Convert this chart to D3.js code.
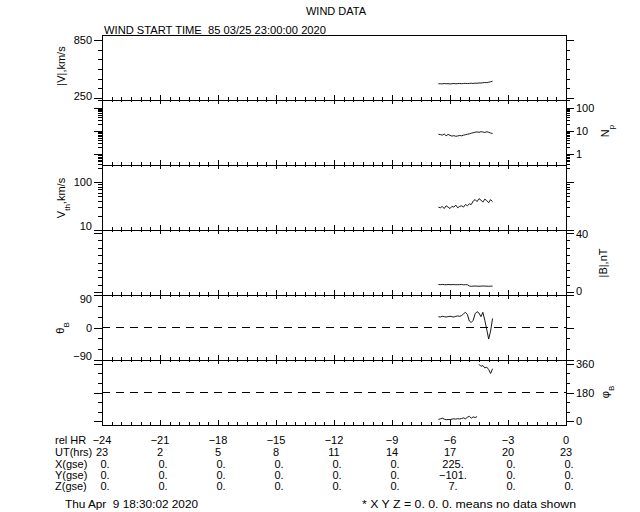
<!DOCTYPE html>
<html>
<head>
<meta charset="utf-8">
<script src="https://cdn.jsdelivr.net/npm/d3@7"></script>
<style>
  body { margin: 0; background: #fff; }
  svg text { font-family: "Liberation Sans", "DejaVu Sans", sans-serif; font-size: 11px; fill: #000; white-space: pre; }
  .axis path.domain { display: none; }
  .axis line { stroke: #000; shape-rendering: crispEdges; }
</style>
</head>
<body>
<script>
// hours relative to end time, one sample per 0.1 hr
const hours = [-6.6,-6.5,-6.4,-6.3,-6.2,-6.1,-6.0,-5.9,-5.8,-5.7,-5.6,-5.5,-5.4,-5.3,-5.2,-5.1,-5.0,-4.9,-4.8,-4.7,-4.6,-4.5,-4.4,-4.3,-4.2,-4.1,-4.0,-3.9,-3.8];
const speed = [397,398,396,400,397,399,395,398,400,397,399,401,398,400,402,399,401,403,400,404,402,406,405,408,410,409,413,418,424];
const density = [7.2,7.0,6.6,7.4,6.2,7.1,6.5,6.0,6.3,5.9,6.1,6.4,6.2,6.6,6.9,7.2,7.5,8.0,8.4,8.8,9.1,8.7,9.3,9.0,8.6,9.2,8.8,8.1,7.8];
const thermal = [30,29,31,28,32,30,28,31,30,33,29,31,32,30,34,32,35,34,40,43,39,45,42,38,44,41,37,43,39];
const bMag = [5.1,5.0,5.2,5.0,4.9,5.1,5.0,5.0,5.1,4.9,5.0,5.0,5.1,4.9,5.0,5.0,4.1,3.9,4.0,4.1,4.0,3.9,4.0,4.1,4.0,4.0,3.9,4.0,4.0];
const thetaB = [30,29,31,30,29,30,31,30,29,31,32,31,33,38,42,36,18,14,20,38,44,40,30,42,20,-5,-32,-10,25];
const phiB = [10,14,18,12,8,10,9,12,14,12,15,13,16,20,14,24,30,18,26,22,28,358,345,350,335,340,325,300,330];

// bottom table
const relHr = [-24,-21,-18,-15,-12,-9,-6,-3,0];
const utHrs = ["23","2","5","8","11","14","17","20","23"];
const xGse = ["0.","0.","0.","0.","0.","0.","225.","0.","0."];
const yGse = ["0.","0.","0.","0.","0.","0.","-101.","0.","0."];
const zGse = ["0.","0.","0.","0.","0.","0.","7.","0.","0."];

const W = 640, H = 512;
const left = 102, right = 566;
const panelH = 65;
const tops = [35, 100, 165, 230, 295, 360];

const svg = d3.select("body").append("svg")
    .attr("width", W)
    .attr("height", H);

svg.append("rect").attr("width", W).attr("height", H).attr("fill", "#fff");

const x = d3.scaleLinear().domain([-24, 0]).range([left, right]);

// y scales, one per panel
const yV   = d3.scaleLinear().domain([230, 900]).range([tops[0] + panelH, tops[0]]);
const yNp  = d3.scaleLog().domain([0.35, 210]).range([tops[1] + panelH, tops[1]]);
const yVth = d3.scaleLog().domain([10, 226]).range([tops[2] + panelH, tops[2]]);
const yB   = d3.scaleLinear().domain([-2, 42]).range([tops[3] + panelH, tops[3]]);
const yTh  = d3.scaleLinear().domain([-90, 90]).range([tops[4] + panelH, tops[4]]);
const yPh  = d3.scaleLinear().domain([-25, 385]).range([tops[5] + panelH, tops[5]]);

function logMinor(lo, hi) {
    const out = [];
    for (let e = -1; e <= 3; e++) {
        for (let m = 1; m <= 9; m++) {
            const v = m * Math.pow(10, e);
            if (v >= lo && v <= hi) out.push(v);
        }
    }
    return out;
}

const panels = [
    { y: yV,   ticks: d3.range(250, 851, 100), major: [250, 850], side: "left" },
    { y: yNp,  ticks: logMinor(0.35, 210),      major: [1, 10, 100], side: "right" },
    { y: yVth, ticks: logMinor(10, 226),        major: [10, 100], side: "left" },
    { y: yB,   ticks: d3.range(0, 41, 5),       major: [0, 40], side: "right" },
    { y: yTh,  ticks: d3.range(-90, 91, 30),    major: [-90, 0, 90], side: "left" },
    { y: yPh,  ticks: d3.range(0, 361, 60),     major: [0, 180, 360], side: "right" }
];

// frame
svg.append("rect")
    .attr("x", left).attr("y", tops[0])
    .attr("width", right - left).attr("height", panelH * 6)
    .attr("fill", "none").attr("stroke", "#000")
    .attr("shape-rendering", "crispEdges");

tops.slice(1).forEach(t => {
    svg.append("line")
        .attr("x1", left).attr("x2", right)
        .attr("y1", t).attr("y2", t)
        .attr("stroke", "#000").attr("shape-rendering", "crispEdges");
});

const xMinor = d3.range(-24, 0.01, 0.5);
const xMajor = d3.range(-24, 0.01, 3);

panels.forEach((p, i) => {
    const top = tops[i], bot = top + panelH;

    // x ticks pointing into the panel
    if (i > 0) {
        svg.append("g").attr("class", "axis").attr("transform", `translate(0,${top})`)
            .call(d3.axisBottom(x).tickValues(xMinor).tickSize(2).tickFormat(""));
        svg.append("g").attr("class", "axis").attr("transform", `translate(0,${top})`)
            .call(d3.axisBottom(x).tickValues(xMajor).tickSize(4).tickFormat(""));
    }
    svg.append("g").attr("class", "axis").attr("transform", `translate(0,${bot})`)
        .call(d3.axisTop(x).tickValues(xMinor).tickSize(3).tickFormat(""));
    svg.append("g").attr("class", "axis").attr("transform", `translate(0,${bot})`)
        .call(d3.axisTop(x).tickValues(xMajor).tickSize(5).tickFormat(""));

    // y ticks both sides, outward
    const minorVals = p.ticks.filter(v => !p.major.includes(v));
    [["left", left], ["right", right]].forEach(([side, xpos]) => {
        const ax = side === "left" ? d3.axisLeft : d3.axisRight;
        svg.append("g").attr("class", "axis").attr("transform", `translate(${xpos},0)`)
            .call(ax(p.y).tickValues(minorVals).tickSize(4).tickFormat(""));
        const g = svg.append("g").attr("class", "axis").attr("transform", `translate(${xpos},0)`)
            .call(ax(p.y).tickValues(p.major).tickSize(8).tickPadding(2)
                .tickFormat(side === p.side ? (d => d3.format("d")(d).replace("-", "\u2212")) : ""));
        g.selectAll("text")
            .style("font-size", "11px")
            .attr("y", d => {
                const ty = p.y(d);
                return Math.max(top + 4, Math.min(bot - 4, ty)) - ty;
            });
    });
});

// dashed reference lines
svg.append("line")
    .attr("x1", left).attr("x2", right)
    .attr("y1", yTh(0)).attr("y2", yTh(0))
    .attr("stroke", "#000").attr("stroke-dasharray", "8,6")
    .attr("shape-rendering", "crispEdges");
svg.append("line")
    .attr("x1", left).attr("x2", right)
    .attr("y1", yPh(180)).attr("y2", yPh(180))
    .attr("stroke", "#000").attr("stroke-dasharray", "8,6")
    .attr("shape-rendering", "crispEdges");

// data traces
function trace(values, yScale) {
    const pts = hours.map((h, i) => [h, values[i]]);
    svg.append("path")
        .datum(pts)
        .attr("fill", "none")
        .attr("stroke", "#000")
        .attr("stroke-width", 0.9)
        .attr("d", d3.line().x(d => x(d[0])).y(d => yScale(d[1])));
}
trace(speed, yV);
trace(density, yNp);
trace(thermal, yVth);
trace(bMag, yB);
trace(thetaB, yTh);

// phi wraps around 0/360, break line at the jumps
const phiSegs = [];
let seg = [];
hours.forEach((h, i) => {
    if (i > 0 && Math.abs(phiB[i] - phiB[i - 1]) > 180) {
        phiSegs.push(seg);
        seg = [];
    }
    seg.push([h, phiB[i]]);
});
phiSegs.push(seg);
phiSegs.forEach(s => {
    svg.append("path")
        .datum(s)
        .attr("fill", "none")
        .attr("stroke", "#000")
        .attr("stroke-width", 0.9)
        .attr("d", d3.line().x(d => x(d[0])).y(d => yPh(d[1])));
});

// axis titles
function vTitle(xp, yp, parts) {
    const t = svg.append("text")
        .attr("transform", `translate(${xp},${yp}) rotate(-90)`)
        .attr("text-anchor", "middle")
        .attr("dy", "0.35em");
    parts.forEach(([str, sub]) => {
        const ts = t.append("tspan").text(str);
        if (sub) ts.attr("baseline-shift", "sub").style("font-size", "8px");
    });
}
vTitle(61, 66, [["|V|,km/s", false]]);
vTitle(605, 131, [["N", false], ["p", true]]);
vTitle(61, 198, [["V", false], ["th", true], [",km/s", false]]);
vTitle(603, 263, [["|B|,nT", false]]);
vTitle(60, 328, [["\u03b8", false], ["B", true]]);
vTitle(605, 392, [["\u03c6", false], ["B", true]]);

// titles
svg.append("text")
    .attr("x", 336).attr("y", 15)
    .attr("text-anchor", "middle")
    .text("WIND DATA");

svg.append("text")
    .attr("x", 104).attr("y", 34)
    .attr("textLength", 222)
    .attr("lengthAdjust", "spacingAndGlyphs")
    .text("WIND START TIME  85 03/25 23:00:00 2020");

// bottom table
const rows = [
    ["rel HR", relHr.map(v => String(v).replace("-", "\u2212")), 440],
    ["UT(hrs)", utHrs, 452],
    ["X(gse)", xGse, 464],
    ["Y(gse)", yGse.map(v => v.replace("-", "\u2212")), 475],
    ["Z(gse)", zGse, 486]
];
rows.forEach(([label, vals, yy]) => {
    svg.append("text")
        .attr("x", 55).attr("y", yy).attr("dy", "0.35em")
        .text(label);
    svg.selectAll(null)
        .data(vals)
        .enter()
        .append("text")
        .attr("x", (d, j) => x(relHr[j]) + (label === "rel HR" || label === "UT(hrs)" ? 0 : 3))
        .attr("y", yy).attr("dy", "0.35em")
        .attr("text-anchor", "middle")
        .text(d => d);
});

svg.append("text")
    .attr("x", 65).attr("y", 508)
    .attr("textLength", 133)
    .attr("lengthAdjust", "spacingAndGlyphs")
    .text("Thu Apr  9 18:30:02 2020");

svg.append("text")
    .attr("x", 362).attr("y", 508)
    .attr("textLength", 214)
    .attr("lengthAdjust", "spacingAndGlyphs")
    .text("* X Y Z = 0. 0. 0. means no data shown");
</script>
</body>
</html>
